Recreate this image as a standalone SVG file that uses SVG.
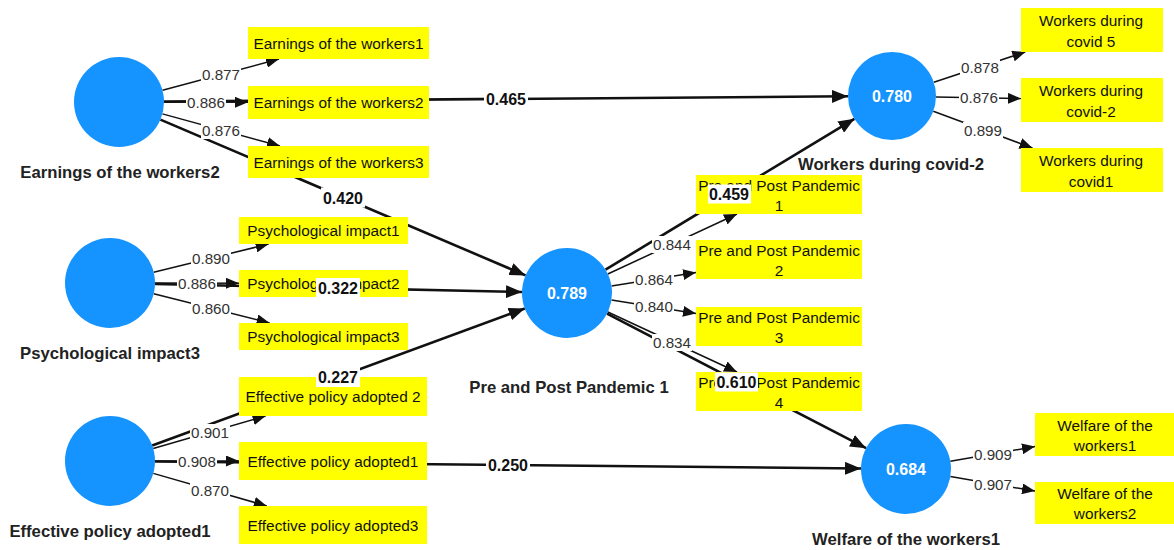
<svg xmlns="http://www.w3.org/2000/svg" width="1174" height="550" viewBox="0 0 1174 550">
<style>
.lv{fill:#1593ff}
.val{font-family:"Liberation Sans",Arial,sans-serif;font-size:16px;font-weight:bold;fill:#fff;text-anchor:middle}
.name{font-family:"Liberation Sans",Arial,sans-serif;font-size:16.7px;font-weight:bold;fill:#222;text-anchor:middle}
.box{fill:#ffff00}
.bt{font-family:"Liberation Sans",Arial,sans-serif;font-size:15.4px;fill:#111;text-anchor:middle}
.ld{stroke:#111;stroke-width:1.5;fill:none;marker-end:url(#arrS)}
.st{stroke:#111;stroke-width:2.6;fill:none;marker-end:url(#arrL)}
.lbg{fill:#fff}
.lt{font-family:"Liberation Sans",Arial,sans-serif;font-size:15.2px;fill:#333;text-anchor:middle}
.stt{font-family:"Liberation Sans",Arial,sans-serif;font-size:16px;font-weight:bold;fill:#111;text-anchor:middle}
</style>
<defs>
<marker id="arrS" markerUnits="userSpaceOnUse" markerWidth="13" markerHeight="11" refX="13" refY="5.5" orient="auto"><path d="M0,0 L13,5.5 L0,11 z" fill="#111"/></marker>
<marker id="arrL" markerUnits="userSpaceOnUse" markerWidth="16" markerHeight="13" refX="16" refY="6.5" orient="auto"><path d="M0,0 L16,6.5 L0,13 z" fill="#111"/></marker>
</defs>
<rect width="1174" height="550" fill="#fff"/>

<g id="connectors">
<line class="st" x1="164" y1="101.6" x2="848" y2="96.3"/>
<line class="st" x1="160.4" y1="119.6" x2="525.6" y2="275.4"/>
<line class="st" x1="155" y1="284" x2="522" y2="292"/>
<line class="st" x1="152.2" y1="445.5" x2="524.8" y2="308.5"/>
<line class="st" x1="155" y1="461.5" x2="861" y2="468.5"/>
<line class="st" x1="605.5" y1="269.7" x2="854.4" y2="118.8"/>
<line class="st" x1="607" y1="313.7" x2="866.1" y2="448.2"/>

<line class="ld" x1="162.5" y1="90.3" x2="279" y2="59"/>
<line class="ld" x1="164" y1="102.1" x2="248" y2="102.3"/>
<line class="ld" x1="162.4" y1="113.9" x2="280" y2="146"/>
<line class="ld" x1="153.7" y1="272.3" x2="268.6" y2="244"/>
<line class="ld" x1="155" y1="283.1" x2="239" y2="283.3"/>
<line class="ld" x1="153.7" y1="293.7" x2="269.6" y2="323"/>
<line class="ld" x1="153.2" y1="448.5" x2="265.6" y2="416"/>
<line class="ld" x1="155" y1="461" x2="239" y2="461"/>
<line class="ld" x1="153.3" y1="473.4" x2="266.8" y2="506"/>
<line class="ld" x1="607.8" y1="274" x2="737" y2="214"/>
<line class="ld" x1="611.5" y1="286" x2="696" y2="272.6"/>
<line class="ld" x1="611.5" y1="300" x2="696" y2="313.4"/>
<line class="ld" x1="607.8" y1="312" x2="737" y2="372"/>
<line class="ld" x1="933.8" y1="82.2" x2="1025.3" y2="52"/>
<line class="ld" x1="936" y1="96.9" x2="1021" y2="98.6"/>
<line class="ld" x1="933.3" y1="111.3" x2="1032.5" y2="148"/>
<line class="ld" x1="950.3" y1="461.3" x2="1035" y2="446.6"/>
<line class="ld" x1="950.4" y1="476.6" x2="1035" y2="491.1"/>
</g>

<g id="lv-earnings"><circle class="lv" cx="119" cy="102" r="45"/><text class="name" x="120" y="178">Earnings of the workers2</text></g>
<g id="lv-psych"><circle class="lv" cx="110" cy="283" r="45"/><text class="name" x="110" y="359">Psychological impact3</text></g>
<g id="lv-effective"><circle class="lv" cx="110" cy="461" r="45"/><text class="name" x="110" y="537">Effective policy adopted1</text></g>
<g id="lv-prepost"><circle class="lv" cx="567" cy="293" r="45"/><text class="val" x="567" y="299">0.789</text><text class="name" x="569" y="393">Pre and Post Pandemic 1</text></g>
<g id="lv-workers"><circle class="lv" cx="892" cy="96" r="44"/><text class="val" x="892" y="102">0.780</text><text class="name" x="891" y="170">Workers during covid-2</text></g>
<g id="lv-welfare"><circle class="lv" cx="906" cy="469" r="45"/><text class="val" x="906" y="475">0.684</text><text class="name" x="906" y="545">Welfare of the workers1</text></g>

<g id="ind-ew1"><rect class="box" x="248" y="27" width="181" height="32"/><text class="bt" x="338.5" y="48.5">Earnings of the workers1</text></g>
<g id="ind-ew2"><rect class="box" x="248" y="86" width="181" height="33"/><text class="bt" x="338.5" y="108">Earnings of the workers2</text></g>
<g id="ind-ew3"><rect class="box" x="248" y="146" width="181" height="32"/><text class="bt" x="338.5" y="167.5">Earnings of the workers3</text></g>
<g id="ind-pi1"><rect class="box" x="239" y="217" width="169" height="27"/><text class="bt" x="323.5" y="236">Psychological impact1</text></g>
<g id="ind-pi2"><rect class="box" x="239" y="270" width="169" height="27"/><text class="bt" x="323.5" y="289">Psychological impact2</text></g>
<g id="ind-pi3"><rect class="box" x="239" y="323" width="169" height="27"/><text class="bt" x="323.5" y="342">Psychological impact3</text></g>
<g id="ind-epa2"><rect class="box" x="239" y="377" width="188" height="39"/><text class="bt" x="333" y="402">Effective policy adopted 2</text></g>
<g id="ind-epa1"><rect class="box" x="239" y="442" width="188" height="38"/><text class="bt" x="333" y="466.5">Effective policy adopted1</text></g>
<g id="ind-epa3"><rect class="box" x="239" y="506" width="188" height="38"/><text class="bt" x="333" y="530.5">Effective policy adopted3</text></g>
<g id="ind-ppp1"><rect class="box" x="696" y="175" width="166" height="39"/><text class="bt" x="779" y="190.5">Pre and Post Pandemic</text><text class="bt" x="779" y="210.5">1</text></g>
<g id="ind-ppp2"><rect class="box" x="696" y="240" width="166" height="39"/><text class="bt" x="779" y="255.5">Pre and Post Pandemic</text><text class="bt" x="779" y="275.5">2</text></g>
<g id="ind-ppp3"><rect class="box" x="696" y="307" width="166" height="39"/><text class="bt" x="779" y="322.5">Pre and Post Pandemic</text><text class="bt" x="779" y="342.5">3</text></g>
<g id="ind-ppp4"><rect class="box" x="696" y="372" width="166" height="39"/><text class="bt" x="779" y="387.5">Pre and Post Pandemic</text><text class="bt" x="779" y="407.5">4</text></g>
<g id="ind-wdc5"><rect class="box" x="1021" y="8" width="142" height="44"/><text class="bt" x="1091" y="26">Workers during</text><text class="bt" x="1091" y="47">covid 5</text></g>
<g id="ind-wdc2"><rect class="box" x="1021" y="78" width="142" height="44"/><text class="bt" x="1091" y="96">Workers during</text><text class="bt" x="1091" y="117">covid-2</text></g>
<g id="ind-wdc1"><rect class="box" x="1021" y="148" width="142" height="44"/><text class="bt" x="1091" y="166">Workers during</text><text class="bt" x="1091" y="187">covid1</text></g>
<g id="ind-wow1"><rect class="box" x="1035" y="413" width="139" height="43"/><text class="bt" x="1105" y="430.5">Welfare of the</text><text class="bt" x="1105" y="450.5">workers1</text></g>
<g id="ind-wow2"><rect class="box" x="1035" y="482" width="139" height="42"/><text class="bt" x="1105" y="499">Welfare of the</text><text class="bt" x="1105" y="519">workers2</text></g>

<g id="connector-labels">
<rect class="lbg" x="201" y="66" width="40" height="17"/><text class="lt" x="221" y="80">0.877</text>
<rect class="lbg" x="186" y="94" width="40" height="17"/><text class="lt" x="206" y="108">0.886</text>
<rect class="lbg" x="201" y="122" width="40" height="17"/><text class="lt" x="221" y="136">0.876</text>
<rect class="lbg" x="191" y="250" width="40" height="17"/><text class="lt" x="211" y="264">0.890</text>
<rect class="lbg" x="177" y="275" width="40" height="17"/><text class="lt" x="197" y="289">0.886</text>
<rect class="lbg" x="191" y="300" width="40" height="17"/><text class="lt" x="211" y="314">0.860</text>
<rect class="lbg" x="190" y="424" width="40" height="17"/><text class="lt" x="210" y="438">0.901</text>
<rect class="lbg" x="177" y="453" width="40" height="17"/><text class="lt" x="197" y="467">0.908</text>
<rect class="lbg" x="190" y="482" width="40" height="17"/><text class="lt" x="210" y="496">0.870</text>
<rect class="lbg" x="652" y="236" width="40" height="17"/><text class="lt" x="672" y="250">0.844</text>
<rect class="lbg" x="634" y="271" width="40" height="17"/><text class="lt" x="654" y="285">0.864</text>
<rect class="lbg" x="634" y="298" width="40" height="17"/><text class="lt" x="654" y="312">0.840</text>
<rect class="lbg" x="652" y="334" width="40" height="17"/><text class="lt" x="672" y="348">0.834</text>
<rect class="lbg" x="960" y="59" width="40" height="17"/><text class="lt" x="980" y="73">0.878</text>
<rect class="lbg" x="959" y="89" width="40" height="17"/><text class="lt" x="979" y="103">0.876</text>
<rect class="lbg" x="963" y="122" width="40" height="17"/><text class="lt" x="983" y="136">0.899</text>
<rect class="lbg" x="973" y="446" width="40" height="17"/><text class="lt" x="993" y="460">0.909</text>
<rect class="lbg" x="973" y="476" width="40" height="17"/><text class="lt" x="993" y="490">0.907</text>

<rect class="lbg" x="484" y="89" width="44" height="20"/><text class="stt" x="506" y="105">0.465</text>
<rect class="lbg" x="321" y="187.5" width="44" height="20"/><text class="stt" x="343" y="203.5">0.420</text>
<rect class="lbg" x="316" y="278" width="44" height="20"/><text class="stt" x="338" y="294">0.322</text>
<rect class="lbg" x="316" y="367" width="44" height="20"/><text class="stt" x="338" y="383">0.227</text>
<rect class="lbg" x="486" y="455" width="44" height="20"/><text class="stt" x="508" y="471">0.250</text>
<rect class="lbg" x="708" y="184.5" width="43" height="19"/><text class="stt" x="729" y="200">0.459</text>
<rect class="lbg" x="715" y="372.5" width="43" height="19"/><text class="stt" x="736.5" y="388">0.610</text>
</g>
</svg>
